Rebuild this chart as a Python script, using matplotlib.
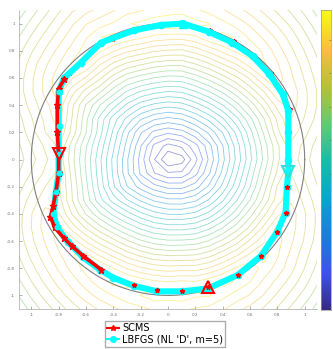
import numpy as np
import matplotlib
matplotlib.use("Agg")
import matplotlib.pyplot as plt
from matplotlib.colors import LinearSegmentedColormap
from matplotlib.lines import Line2D
from matplotlib.path import Path

# ---- data ----
# SCMS path (red), closed loop starting at the left start marker
scms_x = [-0.80, -0.80, -0.82, -0.84, -0.86, -0.83, -0.76, -0.70, -0.62, -0.49, -0.36,
          -0.25, -0.08, 0.10, 0.29, 0.51, 0.68, 0.80, 0.86, 0.87, 0.88, 0.88, 0.89,
          0.85, 0.75, 0.63, 0.48, 0.31, 0.12, -0.05, -0.25, -0.40, -0.49, -0.64, -0.72,
          -0.76, -0.80, -0.81, -0.81, -0.80]
scms_y = [0.04, -0.10, -0.24, -0.34, -0.42, -0.50, -0.58, -0.64, -0.71, -0.81, -0.88,
          -0.92, -0.96, -0.97, -0.94, -0.85, -0.71, -0.53, -0.39, -0.20, 0.00, 0.20, 0.37,
          0.49, 0.64, 0.77, 0.87, 0.95, 0.99, 0.99, 0.95, 0.89, 0.85, 0.71, 0.64, 0.59,
          0.52, 0.40, 0.20, 0.04]
# LBFGS path (cyan), closed loop starting at the top
lbfgs_x = [0.11, 0.30, 0.47, 0.62, 0.74, 0.84, 0.88, 0.88, 0.88, 0.88, 0.87, 0.86,
           0.80, 0.68, 0.51, 0.29, 0.10, -0.08, -0.25, -0.40, -0.50, -0.62, -0.73,
           -0.81, -0.84, -0.82, -0.80, -0.80, -0.80, -0.80, -0.76, -0.64, -0.49, -0.25,
           -0.05, 0.11]
lbfgs_y = [1.00, 0.94, 0.86, 0.76, 0.63, 0.48, 0.36, 0.20, 0.00, -0.09, -0.20, -0.39,
           -0.53, -0.71, -0.85, -0.95, -0.97, -0.97, -0.93, -0.87, -0.81, -0.72, -0.61,
           -0.50, -0.40, -0.24, -0.10, 0.04, 0.25, 0.50, 0.60, 0.71, 0.86, 0.95, 0.99,
           1.00]

# background field: height of the ridge along the loop (by angle), slopes off it
ridge_angle_deg = [0, 30, 60, 90, 120, 150, 180, 210, 240, 270, 300, 330, 360]
ridge_height = [-0.22, -0.10, -0.02, 0.0, -0.02, -0.10, -0.22, -0.10, -0.02, 0.0,
                -0.02, -0.10, -0.22]
slope_inside = 1.0
slope_outside = 0.55
grid_ticks = np.round(np.arange(-1.1, 1.1001, 0.1), 2)
n_levels = 26

ticks = [-1, -0.8, -0.6, -0.4, -0.2, 0, 0.2, 0.4, 0.6, 0.8, 1]
legend_labels = ["SCMS", "LBFGS (NL 'D', m=5)"]

# ---- colormap (parula-like) ----
parula = LinearSegmentedColormap.from_list("parula", [
    (0.00, (0.208, 0.166, 0.529)),
    (0.12, (0.240, 0.320, 0.930)),
    (0.25, (0.090, 0.500, 0.880)),
    (0.38, (0.030, 0.660, 0.800)),
    (0.50, (0.100, 0.740, 0.660)),
    (0.62, (0.380, 0.800, 0.440)),
    (0.75, (0.730, 0.760, 0.190)),
    (0.87, (0.990, 0.740, 0.240)),
    (1.00, (0.976, 0.984, 0.080)),
])

# ---- field ----
gx, gy = np.meshgrid(grid_ticks, grid_ticks)
P = np.column_stack([gx.ravel(), gy.ravel()])
loop = np.column_stack([lbfgs_x, lbfgs_y])
inside = Path(loop).contains_points(P)
slope = np.where(inside, slope_inside, slope_outside)
cands = []
for a, b in zip(loop[:-1], loop[1:]):
    ab = b - a
    L2 = max(ab @ ab, 1e-9)
    t = np.clip(((P - a) @ ab) / L2, 0, 1)
    proj = a + t[:, None] * ab
    d = np.hypot(*(P - proj).T)
    mid = (a + b) / 2
    ang = np.degrees(np.arctan2(mid[1], mid[0])) % 360
    hgt = np.interp(ang, ridge_angle_deg, ridge_height)
    cands.append(hgt - slope * d)
cands = np.array(cands)
temp = 0.02
m = cands.max(axis=0)
Z = (m + temp * np.log(np.exp((cands - m) / temp).sum(axis=0))).reshape(gx.shape)

fig = plt.figure(figsize=(3.33, 3.49), dpi=100)
ax = fig.add_axes([19 / 333, 1 - 309 / 349, 298 / 333, 299 / 349])
levels = np.linspace(Z.min(), Z.max(), n_levels)
ax.contour(gx, gy, Z, levels=levels, cmap=parula, linewidths=0.6, alpha=0.5)

th = np.linspace(0, 2 * np.pi, 400)
ax.plot(np.cos(th), np.sin(th), color="0.5", lw=0.8, zorder=2)

# red under, cyan band, red on top on the left side
ax.plot(scms_x, scms_y, color="red", lw=1.6, marker="*", ms=3, zorder=3)
ax.plot(lbfgs_x, lbfgs_y, color="cyan", lw=4.4, marker="o", ms=4.5, zorder=4)
ax.plot(scms_x[:10], scms_y[:10], color="red", lw=2.6, marker="*", ms=4.5, zorder=5)
ax.plot(scms_x[-5:], scms_y[-5:], color="red", lw=2.6, marker="*", ms=4.5, zorder=5)
ax.plot(lbfgs_x[23:30], lbfgs_y[23:30], ls="none", marker="o", ms=3.2, color="cyan", zorder=6)
ax.plot(scms_x[11:20], scms_y[11:20], ls="none", marker="*", ms=3.5, color="red", zorder=5)

# start / end markers
ax.plot(scms_x[0], scms_y[0], marker="v", ms=8.5, mfc="none", mec="red", mew=1.5, zorder=7)
ax.plot(scms_x[14], scms_y[14], marker="^", ms=8, mfc="none", mec="red", mew=1.5, zorder=7)
ax.plot(lbfgs_x[9], lbfgs_y[9], marker="v", ms=8, mfc="none", mec="#33dddd", mew=1.5, zorder=7)
ax.plot(lbfgs_x[0], lbfgs_y[0], marker="^", ms=6, mfc="cyan", mec="cyan", zorder=7)

ax.set_xlim(-1.09, 1.09)
ax.set_ylim(-1.1, 1.1)
ax.set_xticks(ticks)
ax.set_yticks(ticks)
ax.set_xticklabels([f"{t:g}" for t in ticks])
ax.set_yticklabels([f"{t:g}" for t in ticks])
ax.tick_params(direction="in", length=2, width=0.4, labelsize=3, colors="0.45", pad=3)
for s in ["top", "right"]:
    ax.spines[s].set_visible(False)
for s in ["left", "bottom"]:
    ax.spines[s].set_color("0.65")
    ax.spines[s].set_linewidth(0.5)

# colorbar
cax = fig.add_axes([321 / 333, 1 - 310 / 349, 10 / 333, 300 / 349])
grad = np.linspace(0, 1, 256).reshape(-1, 1)
cax.imshow(grad, aspect="auto", cmap=parula, origin="lower", extent=[0, 1, 0, 1])
cax.set_xticks([])
cax.set_yticks(np.linspace(0.01, 0.9, 9))
cax.yaxis.tick_right()
cax.tick_params(direction="in", length=1.5, width=0.4, labelright=False, colors="0.4")
for s in cax.spines.values():
    s.set_color("0.6")
    s.set_linewidth(0.5)

handles = [
    Line2D([], [], color="red", lw=1.5, marker="*", ms=4),
    Line2D([], [], color="cyan", lw=1.5, marker="o", ms=4),
]
fig.legend(handles, legend_labels, loc="lower left", bbox_to_anchor=(105 / 333, 2 / 349),
           fontsize=7, frameon=True, fancybox=False, edgecolor="0.6", handlelength=1.2,
           handletextpad=0.3, borderpad=0.25, labelspacing=0.15, borderaxespad=0)

fig.savefig("out.png", dpi=100)
